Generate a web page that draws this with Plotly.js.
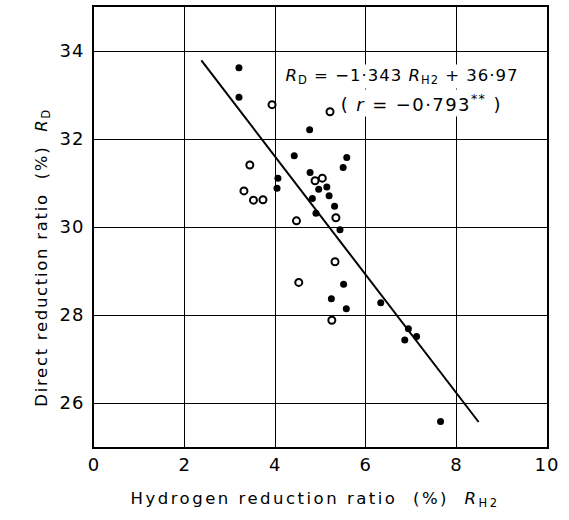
<!DOCTYPE html>
<html>
<head>
<meta charset="utf-8">
<script src="https://cdn.plot.ly/plotly-3.0.1.min.js"></script>
<style>
  html, body { margin: 0; padding: 0; background: #fff; }
  #chart { width: 569px; height: 520px; }
  /* airy, widely spaced lettering for titles and the fit equation */
  #chart .annotation[data-index="0"] text { letter-spacing: 2.5px; }
  #chart .annotation[data-index="1"] text { letter-spacing: 1.7px; }
  #chart .annotation[data-index="2"] text { letter-spacing: 1px; }
  #chart .annotation[data-index="3"] text { letter-spacing: 1.4px; }
  #chart .xtick text, #chart .ytick text { letter-spacing: 1px; }
</style>
</head>
<body>
<div id="chart"></div>
<script>
// Hydrogen reduction ratio R_H2 (%) vs direct reduction ratio R_D (%)
const filledX = [3.20, 3.20, 4.76, 4.42, 5.58, 5.50, 4.77, 4.06, 4.04, 5.14, 4.96, 5.19, 4.82, 5.31, 4.90, 5.43, 5.51, 5.24, 5.57, 6.33, 6.94, 6.86, 7.12, 7.65];
const filledY = [33.62, 32.95, 32.21, 31.62, 31.58, 31.35, 31.24, 31.11, 30.88, 30.91, 30.86, 30.71, 30.65, 30.47, 30.31, 29.94, 28.70, 28.37, 28.14, 28.28, 27.69, 27.43, 27.51, 25.58];

const openX = [3.93, 5.21, 3.44, 4.88, 5.04, 3.31, 3.52, 3.73, 5.34, 4.47, 5.32, 4.52, 5.25];
const openY = [32.78, 32.62, 31.41, 31.05, 31.11, 30.82, 30.61, 30.62, 30.21, 30.14, 29.21, 28.74, 27.88];

// Regression: R_D = -1.343 R_H2 + 36.97
const slope = -1.343;
const intercept = 36.97;
const fitRange = [2.37, 8.49];

const xTicks = [0, 2, 4, 6, 8, 10];
const yTicks = [26, 28, 30, 32, 34];

const fitY = fitRange.map(x => slope * x + intercept);

const FONT = 'DejaVu Sans, Liberation Sans, sans-serif';

const traces = [
  {
    x: fitRange, y: fitY, type: 'scatter', mode: 'lines',
    line: { color: '#000', width: 2 }, hoverinfo: 'skip'
  },
  {
    x: filledX, y: filledY, type: 'scatter', mode: 'markers',
    marker: { symbol: 'circle', size: 7, color: '#000', line: { width: 0 } }
  },
  {
    x: openX, y: openY, type: 'scatter', mode: 'markers',
    marker: { symbol: 'circle', size: 7, color: '#fff', line: { color: '#000', width: 2 } }
  }
];

const layout = {
  width: 569, height: 520,
  margin: { l: 94, r: 22, t: 7, b: 73 },
  paper_bgcolor: '#fff', plot_bgcolor: '#fff',
  showlegend: false,
  font: { family: FONT, color: '#000', size: 17 },
  xaxis: {
    range: [0, 10], tickvals: xTicks, ticktext: xTicks.map(String),
    showgrid: true, gridcolor: '#000', gridwidth: 1,
    zeroline: false, showline: true, linecolor: '#000', linewidth: 2, mirror: true,
    ticks: '', tickfont: { family: FONT, size: 18 }
  },
  yaxis: {
    range: [25, 35], tickvals: yTicks, ticktext: yTicks.map(String),
    showgrid: true, gridcolor: '#000', gridwidth: 1,
    zeroline: false, showline: true, linecolor: '#000', linewidth: 2, mirror: true,
    ticks: '', ticklabelstandoff: 4, tickfont: { family: FONT, size: 18 }
  },
  annotations: [
    {
      xref: 'paper', yref: 'paper', x: 0.488, y: -0.148,
      text: 'Hydrogen reduction ratio  (%)  <i>R</i><sub>H2</sub>',
      showarrow: false, font: { family: FONT, size: 16.5 }
    },
    {
      xref: 'paper', yref: 'paper', x: -0.141, y: 0.43, textangle: -90,
      text: 'Direct reduction ratio  (%)  <i>R</i><sub>D</sub>',
      showarrow: false, font: { family: FONT, size: 16.5 }
    },
    {
      xref: 'x', yref: 'y', x: 6.81, y: 33.43,
      text: '<i>R</i><sub>D</sub> = −1·343 <i>R</i><sub>H2</sub> + 36·97',
      showarrow: false, bgcolor: '#fff', font: { family: FONT, size: 16.5 }
    },
    {
      xref: 'x', yref: 'y', x: 7.22, y: 32.82,
      text: '( <i>r</i> = −0·793<sup>**</sup> )',
      showarrow: false, bgcolor: '#fff', font: { family: FONT, size: 18 }
    }
  ]
};

Plotly.newPlot('chart', traces, layout, { displayModeBar: false, staticPlot: true });
</script>
</body>
</html>
